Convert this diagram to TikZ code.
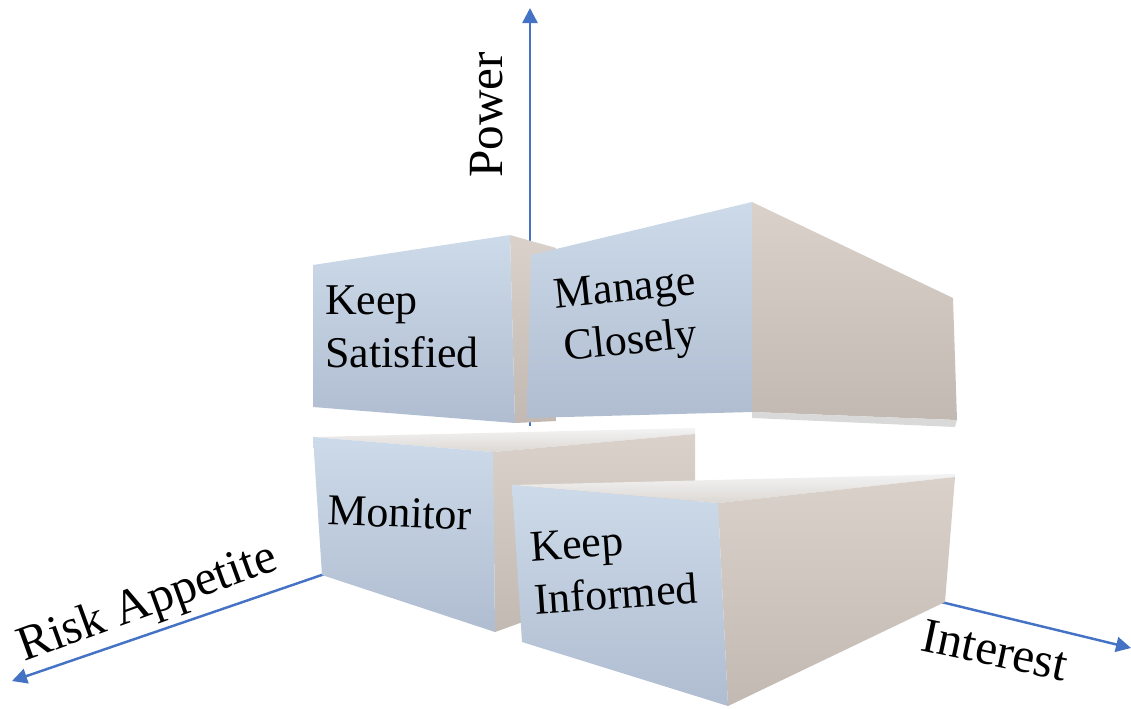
\documentclass[tikz,border=0pt]{standalone}
\usepackage{fontspec}
\setmainfont{Liberation Serif}
\usepackage{tikz}
\usetikzlibrary{arrows.meta}
\definecolor{PMBlue}{HTML}{4472C4}
\definecolor{PMFaceTop}{HTML}{CCDAE9}
\definecolor{PMFaceBot}{HTML}{B0BDD1}
\definecolor{PMSideTop}{HTML}{DAD2CA}
\definecolor{PMSideBot}{HTML}{C2BAB2}
\definecolor{PMLid}{HTML}{F3F3F3}
\definecolor{PMLidDark}{HTML}{DCD8D4}
\tikzset{
  axisline/.style={PMBlue,line width=1.4pt,-{Triangle[length=0.3cm,width=0.3cm]}},
  frontface/.style={top color=PMFaceTop,bottom color=PMFaceBot},
  sideface/.style={top color=PMSideTop,bottom color=PMSideBot},
  topface/.style={top color=PMLid,bottom color=PMLidDark},
  boxlabel/.style={font=\fontsize{25}{30}\selectfont,inner sep=0pt,align=left},
  axislabel/.style={font=\fontsize{28}{32}\selectfont,inner sep=0pt}
}

\begin{document}
\begin{tikzpicture}[x=0.02cm,y=-0.02cm]
\path[use as bounding box] (0,0) rectangle (1131,708);
% axes, drawn first so the boxes hide their feet
\coordinate (po) at (530,426);
\coordinate (pe) at (530,8);
\coordinate (ro) at (345,567);
\coordinate (re) at (12,681);
\coordinate (io) at (900,592);
\coordinate (ie) at (1131,648);
\draw[axisline] (po) -- (pe);
\draw[axisline] (ro) -- (re);
\draw[axisline] (io) -- (ie);
\node[axislabel,rotate=90] (power) at (487,115) {Power};
\node[axislabel,rotate=20] (risk) at (148,604) {Risk Appetite};
\node[axislabel,rotate=-12] (interest) at (995,650) {Interest};
% keep satisfied
\shade[sideface] (510,235) -- (556,248) -- (556,421) -- (515,423) -- cycle;
\shade[frontface] (313,265) -- (510,235) -- (515,423) -- (313,407) -- cycle;
\node[boxlabel] (satisfied) at (402,327) {Keep\\Satisfied};
% manage closely
\shade[sideface] (752,202) -- (953,298) -- (957,420) -- (752,412) -- cycle;
\fill[gray!30] (752,412) -- (957,420) -- (955,427) -- (752,418) -- cycle;
\shade[frontface] (531,255) -- (752,202) -- (752,412) -- (527,418) -- cycle;
\node[boxlabel,align=center,rotate=6] (closely) at (628,318) {Manage\\Closely};
% monitor
\shade[topface] (313,437) -- (695,428) -- (695,434) -- (493,452) -- cycle;
\shade[sideface] (493,452) -- (695,434) -- (695,560) -- (495,632) -- cycle;
\shade[frontface] (313,437) -- (493,452) -- (495,632) -- (322,575) -- cycle;
\node[boxlabel,rotate=-2] (monitor) at (400,513) {Monitor};
% keep informed
\shade[topface] (512,485) -- (955,474) -- (955,477) -- (718,503) -- cycle;
\shade[sideface] (718,503) -- (955,477) -- (945,602) -- (728,706) -- cycle;
\shade[frontface] (512,485) -- (718,503) -- (728,706) -- (522,642) -- cycle;
\node[boxlabel,rotate=4] (informed) at (614,568) {Keep\\Informed};
\end{tikzpicture}
\end{document}
